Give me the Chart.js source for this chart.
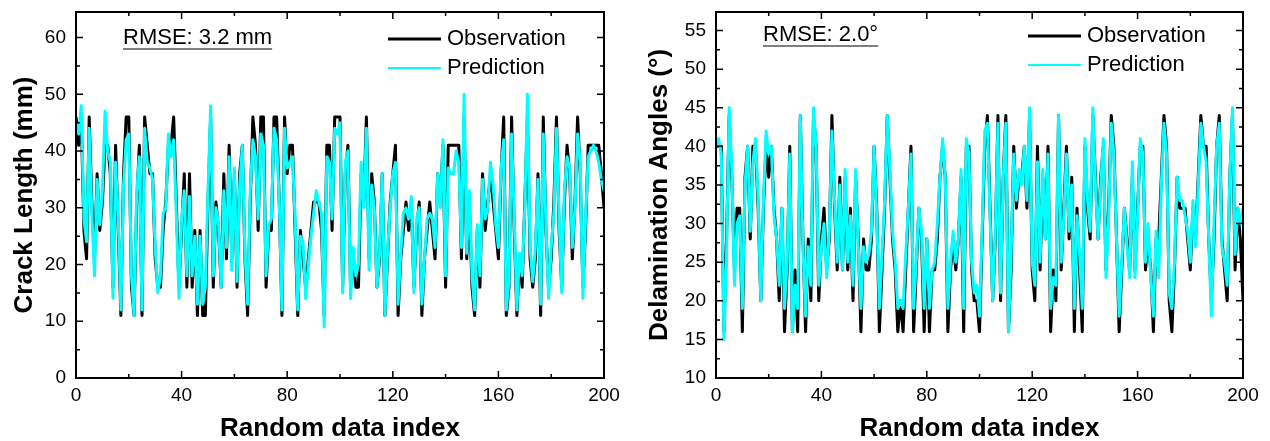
<!DOCTYPE html>
<html>
<head>
<meta charset="utf-8">
<script src="https://cdn.jsdelivr.net/npm/chart.js@4.4.1/dist/chart.umd.min.js"></script>
<style>
  body { margin: 0; background: #fff; }
  canvas { position: absolute; top: 0; }
</style>
</head>
<body>
<canvas id="crack" width="635" height="441" style="left:0"></canvas>
<canvas id="angle" width="635" height="441" style="left:635px"></canvas>
<script>
// tick labels
const xTicks = [0, 40, 80, 120, 160, 200];
const crackTicks = [0, 10, 20, 30, 40, 50, 60];
const angleTicks = [10, 15, 20, 25, 30, 35, 40, 45, 50, 55];

// crack length (mm), index 0..200
const crackObs = [
  46,41,46,26,21,46,31,21,36,26, 31,41,41,36,16,41,26,11,36,46,
  46,16,11,31,41,11,46,41,36,36, 21,16,16,26,31,41,41,46,31,16,
  26,36,16,36,16,26,11,26,11,11, 31,46,16,31,26,16,36,21,41,21,
  36,16,36,41,21,11,31,46,41,26, 46,46,16,26,26,46,46,31,11,46,
  36,41,41,26,11,26,21,16,21,26, 31,31,31,26,11,41,41,26,46,46,
  46,16,36,41,16,21,16,16,36,31, 46,21,36,31,16,21,36,11,21,31,
  36,41,11,21,26,31,26,31,16,26, 31,11,21,26,31,26,21,36,31,41,
  16,41,41,41,41,41,21,46,21,31, 16,11,26,16,36,26,31,36,31,26,
  21,36,46,11,16,46,26,11,21,16, 31,46,21,16,21,36,11,46,26,16,
  21,31,46,26,16,31,41,36,21,31, 46,36,16,26,41,41,41,41,41,36,
  30
];
const crackPred = [
  45,43,48,28,24,44,29,18,35,27, 33,47,40,38,14,38,28,12,34,42,
  43,18,11,33,39,12,44,38,37,35, 23,15,18,29,30,43,39,42,29,14,
  28,33,18,32,18,25,13,25,13,16, 33,48,18,30,27,16,33,23,39,19,
  37,17,34,41,22,13,33,42,39,28, 43,41,18,27,28,44,42,31,12,44,
  37,38,39,28,12,25,24,14,20,25, 29,33,31,29,9,39,38,28,44,43,
  45,15,38,40,14,23,18,20,38,30, 44,19,34,30,16,22,36,11,22,30,
  36,38,13,22,29,30,28,32,15,28, 30,13,21,28,29,28,23,36,30,42,
  18,37,36,36,40,38,23,50,22,33, 18,12,27,18,35,28,30,38,34,27,
  23,37,42,12,17,43,28,12,22,18, 30,50,23,17,23,35,13,43,27,14,
  23,29,44,28,15,33,39,37,23,30, 43,38,14,28,39,40,41,40,38,35,
  33
];

// delamination angle (deg), index 0..200
const angleObs = [
  40,40,40,16,28,44,36,24,32,32, 16,36,40,28,40,40,32,20,32,40,
  36,40,32,28,20,32,16,24,40,16, 24,16,44,28,16,28,20,44,40,20,
  28,32,24,28,44,32,24,36,24,36, 24,32,20,36,28,16,28,24,24,28,
  40,32,16,24,32,44,36,28,24,16, 20,16,24,32,40,16,24,32,28,16,
  28,16,24,24,28,36,40,36,16,24, 28,24,28,36,16,40,40,24,20,20,
  16,28,40,44,32,20,28,44,20,36, 44,16,24,40,32,36,36,40,32,44,
  24,20,40,24,36,28,40,16,24,20, 44,24,32,40,28,36,16,32,24,16,
  40,32,28,44,36,28,36,40,24,32, 44,40,28,16,24,32,28,24,36,24,
  32,40,40,24,28,24,16,28,28,36, 44,40,20,16,24,36,32,32,32,28,
  24,32,28,36,44,40,40,28,20,28, 40,44,28,24,20,36,44,24,32,28,
  20
];
const anglePred = [
  40,41,39,15,26,45,37,22,30,31, 19,35,40,29,38,41,33,20,33,42,
  39,40,31,28,22,32,19,25,39,16, 22,19,44,27,18,27,22,45,40,22,
  27,30,23,29,42,33,25,35,24,37, 25,31,22,37,27,19,27,25,26,29,
  40,31,19,26,33,44,37,29,25,19, 20,19,26,32,39,19,25,32,29,19,
  28,19,24,25,30,36,41,36,19,25, 29,25,28,37,19,41,39,25,21,22,
  18,29,42,43,31,20,29,43,21,36, 43,16,26,39,33,37,35,40,33,45,
  25,22,38,25,37,28,39,19,23,22, 44,25,31,39,29,35,19,31,26,19,
  41,33,29,45,35,28,35,41,23,31, 43,39,28,18,25,32,27,23,38,23,
  31,41,39,25,30,23,18,29,23,35, 43,39,21,19,25,36,33,33,31,29,
  25,33,27,35,43,40,38,28,18,30, 40,43,27,25,22,36,45,26,32,30,
  32
];

Chart.defaults.font.family = '"Liberation Sans", Arial, sans-serif';
Chart.defaults.color = '#000';

function points(arr) {
  return arr.map((v, i) => ({ x: i, y: v }));
}

// box, inward ticks, legend and RMSE note
function overlay(note, yTicks) {
  return {
    id: 'overlay',
    afterDraw(chart) {
      const ctx = chart.ctx;
      const a = chart.chartArea;
      const xs = chart.scales.x, ys = chart.scales.y;
      ctx.save();
      ctx.strokeStyle = '#000';
      ctx.lineWidth = 2;
      ctx.strokeRect(a.left, a.top, a.right - a.left, a.bottom - a.top);

      ctx.lineWidth = 1.5;
      ctx.beginPath();
      xTicks.forEach((v, i) => {
        const px = xs.getPixelForValue(v);
        ctx.moveTo(px, a.bottom); ctx.lineTo(px, a.bottom - 7);
        ctx.moveTo(px, a.top); ctx.lineTo(px, a.top + 7);
        if (i < xTicks.length - 1) {
          const m = xs.getPixelForValue((v + xTicks[i + 1]) / 2);
          ctx.moveTo(m, a.bottom); ctx.lineTo(m, a.bottom - 4);
          ctx.moveTo(m, a.top); ctx.lineTo(m, a.top + 4);
        }
      });
      yTicks.forEach((v, i) => {
        const py = ys.getPixelForValue(v);
        ctx.moveTo(a.left, py); ctx.lineTo(a.left + 7, py);
        ctx.moveTo(a.right, py); ctx.lineTo(a.right - 7, py);
        if (i < yTicks.length - 1) {
          const m = ys.getPixelForValue((v + yTicks[i + 1]) / 2);
          ctx.moveTo(a.left, m); ctx.lineTo(a.left + 4, m);
          ctx.moveTo(a.right, m); ctx.lineTo(a.right - 4, m);
        }
      });
      ctx.stroke();

      // RMSE note, underlined
      ctx.font = '22px "Liberation Sans", Arial, sans-serif';
      ctx.fillStyle = '#000';
      ctx.textBaseline = 'middle';
      const nx = a.left + 47, ny = a.top + note.dy;
      ctx.fillText(note.text, nx, ny);
      const w = ctx.measureText(note.text).width;
      ctx.lineWidth = 1.2;
      ctx.beginPath();
      ctx.moveTo(nx, ny + 11); ctx.lineTo(nx + w, ny + 11);
      ctx.stroke();

      // legend
      const lx = a.left + 312;
      [['Observation', '#000', 3, note.dy + 1], ['Prediction', '#00ffff', 2, note.dy + 30]].forEach(([t, c, lw, dy]) => {
        const ly = a.top + dy;
        ctx.strokeStyle = c;
        ctx.lineWidth = lw;
        ctx.beginPath();
        ctx.moveTo(lx, ly); ctx.lineTo(lx + 53, ly);
        ctx.stroke();
        ctx.fillText(t, lx + 59, ly);
      });
      ctx.restore();
    }
  };
}

function makePanel(id, obs, pred, yMin, yMax, yTicks, yTitle, yWidth, padRight, note) {
  return new Chart(document.getElementById(id), {
    type: 'line',
    data: {
      datasets: [
        { label: 'Prediction', data: points(pred), borderColor: '#00ffff', borderWidth: 3, order: 0 },
        { label: 'Observation', data: points(obs), borderColor: '#000000', borderWidth: 3, order: 1 }
      ]
    },
    options: {
      responsive: false,
      animation: false,
      elements: { point: { radius: 0 }, line: { tension: 0, borderJoinStyle: 'round' } },
      layout: { padding: { top: 12, right: padRight, left: 0, bottom: 0 } },
      scales: {
        x: {
          type: 'linear', min: 0, max: 200,
          grid: { display: false, drawTicks: false }, border: { display: false },
          ticks: { padding: 6, maxRotation: 0, autoSkip: false, font: { size: 19 } },
          afterBuildTicks: s => { s.ticks = xTicks.map(v => ({ value: v })); },
          afterFit: s => { s.height = 63; s.paddingLeft = 0; s.paddingRight = 0; },
          title: { display: true, text: 'Random data index', font: { size: 26, weight: 'bold' }, padding: { top: 0, bottom: -3 } }
        },
        y: {
          min: yMin, max: yMax,
          grid: { display: false, drawTicks: false }, border: { display: false },
          ticks: { padding: 10, autoSkip: false, font: { size: 19 } },
          afterBuildTicks: s => { s.ticks = yTicks.map(v => ({ value: v })); },
          afterFit: s => { s.width = yWidth; s.paddingTop = 0; s.paddingBottom = 0; },
          title: { display: true, text: yTitle, font: { size: 26, weight: 'bold' }, padding: { top: 9, bottom: 0 } }
        }
      },
      plugins: { legend: { display: false }, tooltip: { enabled: false } }
    },
    plugins: [overlay(note, yTicks)]
  });
}

makePanel('crack', crackObs, crackPred, 0, 64.5, crackTicks, 'Crack Length (mm)', 76, 31,
  { text: 'RMSE: 3.2 mm', dy: 26 });
makePanel('angle', angleObs, anglePred, 10, 57.4, angleTicks, 'Delamination Angles (°)', 81, 27,
  { text: 'RMSE: 2.0°', dy: 23 });
</script>
</body>
</html>
